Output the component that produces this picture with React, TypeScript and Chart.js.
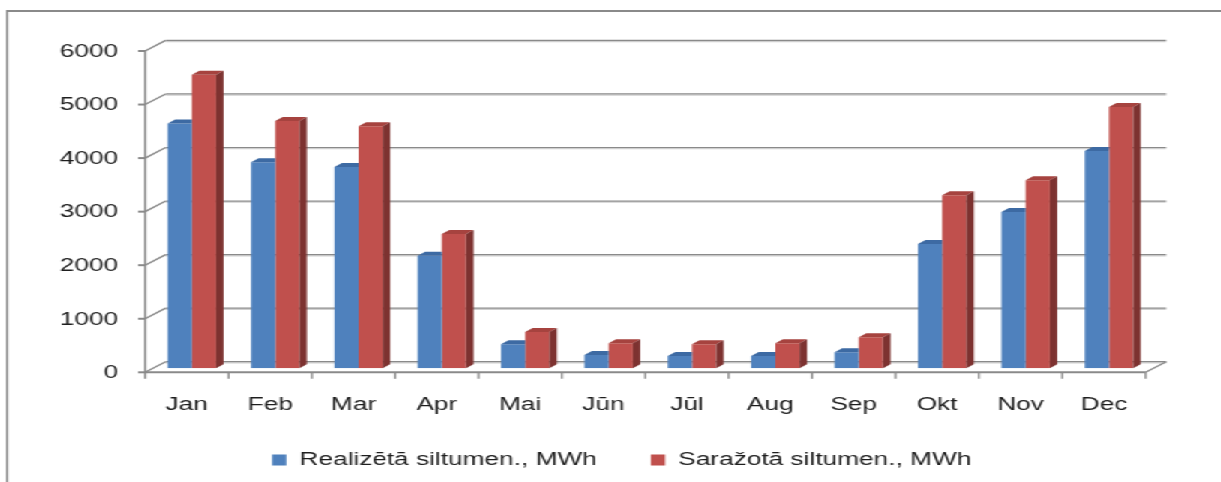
import React, { useEffect, useRef } from 'react';
import { Chart, registerables } from 'chart.js';

Chart.register(...registerables);

// ---- data ----
const months = ['Jan', 'Feb', 'Mar', 'Apr', 'Mai', 'Jūn', 'Jūl', 'Aug', 'Sep', 'Okt', 'Nov', 'Dec'];
const realized = [4570, 3850, 3760, 2100, 450, 250, 230, 230, 300, 2320, 2920, 4060];
const produced = [5480, 4620, 4520, 2510, 680, 470, 450, 470, 580, 3230, 3510, 4880];
const seriesNames = ['Realizētā siltumen., MWh', 'Saražotā siltumen., MWh'];
const yMin = 0;
const yMax = 6000;
const yStep = 1000;

// ---- look ----
const STRETCH = 1.5; // the reference picture is stretched horizontally
const W = 1221 / STRETCH;
const H = 482;
const px = (v: number) => v / STRETCH;

const BLUE = '#4f81bd';
const BLUE_TOP = '#3d6aa3';
const RED = '#c0504d';
const RED_TOP = '#a6433f';
const RED_SIDE = '#7d3230';
const GRID = '#8a8a8a';
const GRID_SHADOW = '#cfcfcf';
const FONT = { family: '"Liberation Sans", Arial, sans-serif', size: 17.5 };
const TEXT = '#1e1e1e';

const BACK_DX = px(15.5);
const BACK_DY = -6.6;
const FRONT_DX = px(-5);
const FRONT_DY = 4;
const BAR_D = px(7.5);
const BAR_DY = 4;

function seg(ctx: CanvasRenderingContext2D, x1: number, y1: number, x2: number, y2: number) {
  ctx.beginPath();
  ctx.moveTo(x1, y1);
  ctx.lineTo(x2, y2);
  ctx.stroke();
}

function poly(ctx: CanvasRenderingContext2D, pts: number[][], color: string) {
  ctx.beginPath();
  ctx.moveTo(pts[0][0], pts[0][1]);
  for (let i = 1; i < pts.length; i++) ctx.lineTo(pts[i][0], pts[i][1]);
  ctx.closePath();
  ctx.fillStyle = color;
  ctx.fill();
}

const threeD = {
  id: 'threeD',
  beforeDraw(chart: any) {
    const ctx = chart.ctx as CanvasRenderingContext2D;
    ctx.save();
    ctx.strokeStyle = GRID;
    ctx.lineWidth = 2;
    seg(ctx, px(6), 11, chart.width, 11);
    ctx.lineWidth = px(2);
    seg(ctx, px(7), 10, px(7), chart.height);
    ctx.restore();
  },
  beforeDatasetsDraw(chart: any) {
    const ctx = chart.ctx as CanvasRenderingContext2D;
    const { left, right } = chart.chartArea;
    const ys = chart.scales.y;
    ctx.save();
    for (const t of ys.ticks) {
      const y = ys.getPixelForValue(t.value);
      ctx.lineWidth = 1.2;
      ctx.strokeStyle = GRID_SHADOW;
      seg(ctx, left + BACK_DX, y + BACK_DY + 1.2, right + BACK_DX, y + BACK_DY + 1.2);
      ctx.strokeStyle = GRID;
      seg(ctx, left + BACK_DX, y + BACK_DY, right + BACK_DX, y + BACK_DY);
      ctx.lineWidth = 1.4;
      seg(ctx, left + FRONT_DX, y + FRONT_DY, left + BACK_DX, y + BACK_DY);
    }
    const y0 = ys.getPixelForValue(yMin);
    ctx.lineWidth = 1.4;
    ctx.strokeStyle = GRID;
    seg(ctx, right + FRONT_DX, y0 + FRONT_DY, right + BACK_DX, y0 + BACK_DY);
    ctx.restore();
  },
  afterDatasetsDraw(chart: any) {
    const ctx = chart.ctx as CanvasRenderingContext2D;
    const { left, right } = chart.chartArea;
    const ys = chart.scales.y;
    const xs = chart.scales.x;
    ctx.save();
    const m0 = chart.getDatasetMeta(0).data;
    const m1 = chart.getDatasetMeta(1).data;
    for (let i = 0; i < m0.length; i++) {
      const b = m0[i].getProps(['x', 'y', 'base', 'width'], true);
      const r = m1[i].getProps(['x', 'y', 'base', 'width'], true);
      const bx1 = b.x - b.width / 2;
      const bx2 = b.x + b.width / 2;
      ctx.save();
      ctx.beginPath();
      ctx.rect(bx1 - 1, 0, bx2 - bx1 + 1, chart.height);
      ctx.clip();
      poly(ctx, [[bx1, b.y], [bx2, b.y], [bx2 + BAR_D, b.y - BAR_DY], [bx1 + BAR_D, b.y - BAR_DY]], BLUE_TOP);
      ctx.restore();
      const rx1 = r.x - r.width / 2;
      const rx2 = r.x + r.width / 2;
      poly(ctx, [[rx1, r.y], [rx2, r.y], [rx2 + BAR_D, r.y - BAR_DY], [rx1 + BAR_D, r.y - BAR_DY]], RED_TOP);
      poly(ctx, [[rx2, r.y], [rx2 + BAR_D, r.y - BAR_DY], [rx2 + BAR_D, r.base - BAR_DY], [rx2, r.base]], RED_SIDE);
    }
    ctx.strokeStyle = GRID;
    const y0 = ys.getPixelForValue(yMin) + FRONT_DY;
    const yT = ys.getPixelForValue(yMax) + FRONT_DY;
    const ax = left + FRONT_DX;
    ctx.lineWidth = px(2);
    seg(ctx, ax, yT - 1, ax, y0 + 1);
    ctx.lineWidth = 2;
    seg(ctx, ax, y0, right + FRONT_DX, y0);
    for (const t of ys.ticks) {
      const y = ys.getPixelForValue(t.value) + FRONT_DY;
      seg(ctx, ax - px(7), y, ax, y);
    }
    const cw = xs.getPixelForValue(1) - xs.getPixelForValue(0);
    ctx.lineWidth = px(2);
    for (let k = 0; k <= months.length; k++) {
      const x = xs.getPixelForValue(0) - cw / 2 + k * cw + FRONT_DX;
      seg(ctx, x, y0, x, y0 + 6.5);
    }
    ctx.restore();
  },
};

export default function App() {
  const ref = useRef<HTMLCanvasElement | null>(null);
  useEffect(() => {
    if (!ref.current) return;
    const chart = new Chart(ref.current, {
      type: 'bar',
      data: {
        labels: months,
        datasets: [
          { label: seriesNames[0], data: realized, backgroundColor: BLUE, borderWidth: 0 },
          { label: seriesNames[1], data: produced, backgroundColor: RED, borderWidth: 0 },
        ],
      },
      options: {
        animation: false,
        responsive: true,
        maintainAspectRatio: false,
        events: [],
        layout: { padding: { left: 15, right: 0, top: 47, bottom: 3.25 } },
        datasets: { bar: { categoryPercentage: 0.58, barPercentage: 1 } },
        scales: {
          x: {
            grid: { display: false, drawTicks: false },
            border: { display: false },
            ticks: { font: FONT, color: TEXT, padding: 26.2, labelOffset: px(-5), maxRotation: 0, autoSkip: false },
            afterFit: (s: any) => { s.height = 46.95; },
          },
          y: {
            min: yMin,
            max: yMax,
            grid: { display: false, drawTicks: false },
            border: { display: false },
            ticks: {
              stepSize: yStep,
              font: FONT,
              color: TEXT,
              padding: 21.3,
              labelOffset: 5,
              callback: (v: any) => String(v),
            },
            afterFit: (s: any) => { s.width = 85; },
          },
          yRight: {
            type: 'linear',
            position: 'right',
            min: yMin,
            max: yMax,
            grid: { display: false, drawTicks: false },
            border: { display: false },
            ticks: { display: false },
            afterFit: (s: any) => { s.width = 46.8; },
          },
        },
        plugins: {
          legend: {
            position: 'bottom',
            labels: { boxWidth: 9.5, boxHeight: 11, padding: 36, font: FONT, color: TEXT },
          },
          tooltip: { enabled: false },
        },
      },
      plugins: [threeD],
    } as any);
    return () => chart.destroy();
  }, []);

  return (
    <div
      style={{
        position: 'fixed',
        left: 0,
        top: 0,
        width: W + 'px',
        height: H + 'px',
        transform: `scaleX(${STRETCH})`,
        transformOrigin: '0 0',
        background: '#fff',
      }}
    >
      <canvas ref={ref} />
    </div>
  );
}
